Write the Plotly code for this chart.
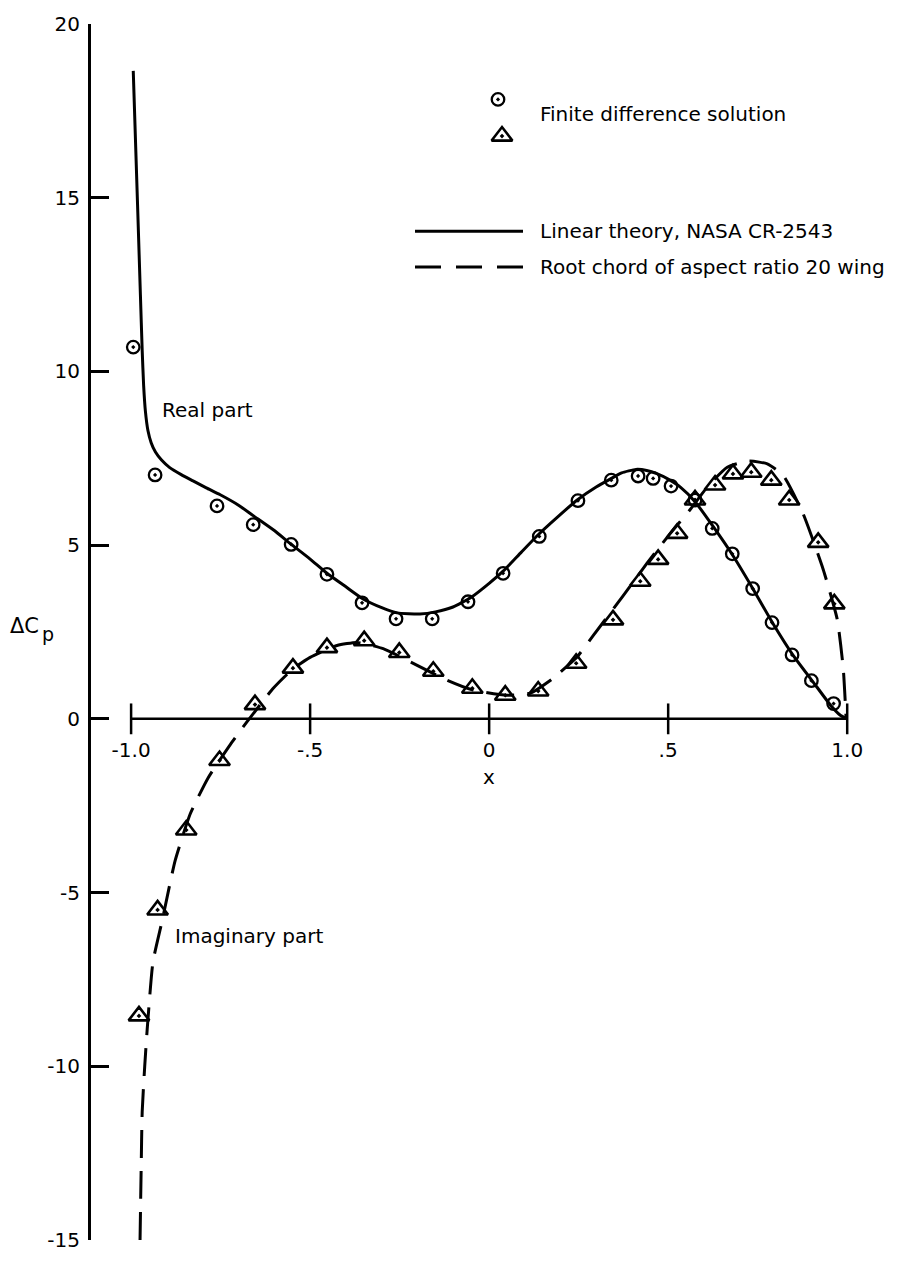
import plotly.graph_objects as go

# ---------------- data ----------------
real_fd_x = [-0.994, -0.933, -0.760, -0.659, -0.553, -0.453, -0.355, -0.260, -0.159, -0.059,
             0.039, 0.140, 0.248, 0.341, 0.416, 0.458, 0.508, 0.575, 0.623, 0.679,
             0.736, 0.790, 0.846, 0.900, 0.962]
real_fd_y = [10.7, 7.02, 6.13, 5.59, 5.02, 4.16, 3.34, 2.88, 2.88, 3.37,
             4.19, 5.25, 6.28, 6.87, 6.99, 6.92, 6.70, 6.30, 5.48, 4.75,
             3.75, 2.77, 1.84, 1.10, 0.44]

imag_fd_x = [-0.978, -0.926, -0.846, -0.753, -0.654, -0.548, -0.453, -0.349, -0.251, -0.156,
             -0.047, 0.045, 0.137, 0.243, 0.346, 0.422, 0.472, 0.525, 0.575, 0.631,
             0.681, 0.732, 0.788, 0.838, 0.919, 0.964]
imag_fd_y = [-8.55, -5.50, -3.20, -1.20, 0.41, 1.46, 2.05, 2.25, 1.91, 1.37,
             0.88, 0.68, 0.80, 1.60, 2.85, 3.96, 4.59, 5.34, 6.30, 6.73,
             7.05, 7.10, 6.87, 6.30, 5.08, 3.31]

real_th_x = [-0.994, -0.982, -0.974, -0.969, -0.965, -0.960, -0.953, -0.944, -0.932, -0.915,
             -0.893, -0.860, -0.827, -0.790, -0.751,
             -0.700, -0.659, -0.600, -0.556, -0.500, -0.453, -0.400, -0.352, -0.300, -0.257,
             -0.193, -0.150, -0.101, -0.050, 0.000, 0.039, 0.090, 0.137, 0.190, 0.246,
             0.300, 0.338, 0.370, 0.410, 0.440, 0.470, 0.500, 0.534, 0.575, 0.626,
             0.682, 0.737, 0.793, 0.849, 0.905, 0.953, 0.980, 0.994]
real_th_y = [18.65, 14.8, 12.2, 10.6, 9.6, 8.85, 8.3, 7.95, 7.68, 7.45,
             7.24, 7.03, 6.85, 6.65, 6.45,
             6.15, 5.85, 5.42, 5.05, 4.60, 4.19, 3.80, 3.45, 3.20, 3.05,
             3.02, 3.08, 3.22, 3.50, 3.90, 4.25, 4.80, 5.30, 5.80, 6.30,
             6.68, 6.90, 7.08, 7.18, 7.15, 7.05, 6.90, 6.67, 6.25, 5.53,
             4.68, 3.74, 2.74, 1.83, 1.06, 0.40, 0.11, 0.03]

imag_th_x = [-0.975, -0.972, -0.969, -0.962, -0.955, -0.939, -0.913, -0.877, -0.835, -0.785,
             -0.723, -0.676, -0.603, -0.550, -0.500, -0.425, -0.369, -0.296, -0.201, -0.117,
             -0.045, 0.050, 0.115, 0.179, 0.198, 0.243, 0.291, 0.374, 0.441, 0.506,
             0.561, 0.609, 0.665, 0.723, 0.777, 0.821, 0.877, 0.933, 0.972, 0.989, 0.997]
imag_th_y = [-15.0, -13.0, -11.3, -10.0, -8.93, -7.0, -5.8, -4.08, -2.74, -1.70,
             -0.74, -0.08, 0.88, 1.42, 1.77, 2.11, 2.20, 2.02, 1.54, 1.11,
             0.83, 0.68, 0.74, 1.17, 1.34, 1.75, 2.40, 3.54, 4.48, 5.34,
             6.02, 6.67, 7.24, 7.42, 7.34, 7.01, 5.90, 4.30, 2.87, 1.45, 0.0]

x_ticks = [-1.0, -0.5, 0.0, 0.5, 1.0]
x_ticktext = ["-1.0", "-.5", "0", ".5", "1.0"]
y_ticks = [-15, -10, -5, 0, 5, 10, 15, 20]
y_ticktext = ["-15", "-10", "-5", "0", "5", "10", "15", "20"]

# ---------------- layout geometry ----------------
W, H = 900, 1264
L, R, T, B = 91, 17, 23, 15
XMIN, XMAX = -1.112, 1.1
YMIN, YMAX = -15, 20
PW, PH = W - L - R, H - T - B


def px_x(px):
    return XMIN + (px - L) * (XMAX - XMIN) / PW


def px_y(py):
    return YMAX - (py - T) * (YMAX - YMIN) / PH


FONT = "DejaVu Sans"
DASH = "28px,13px"

fig = go.Figure()

# theory curves
fig.add_trace(go.Scatter(x=real_th_x, y=real_th_y, mode="lines",
                         line=dict(color="black", width=3, shape="spline", smoothing=0.5),
                         hoverinfo="skip"))
fig.add_trace(go.Scatter(x=imag_th_x, y=imag_th_y, mode="lines",
                         line=dict(color="black", width=3, dash=DASH, shape="spline", smoothing=0.5),
                         hoverinfo="skip"))

# finite difference points
circle_marker = dict(symbol="circle-open-dot", size=12.5, color="black", line=dict(width=2.3, color="black"))
tri_marker = dict(symbol="triangle-up-open-dot", size=18, color="black", line=dict(width=2.6, color="black"))
fig.add_trace(go.Scatter(x=imag_fd_x, y=imag_fd_y, mode="markers", marker=tri_marker, cliponaxis=False))
fig.add_trace(go.Scatter(x=real_fd_x, y=real_fd_y, mode="markers", marker=circle_marker, cliponaxis=False))

# x-axis line and crossing tick marks at y = 0
fig.add_shape(type="line", x0=min(x_ticks), x1=max(x_ticks), y0=0, y1=0,
              line=dict(color="black", width=2.5))
fig.add_trace(go.Scatter(x=x_ticks, y=[0] * len(x_ticks), mode="markers",
                         marker=dict(symbol="line-ns", size=22, line=dict(width=2.5, color="black")),
                         hoverinfo="skip", cliponaxis=False))

# legend (custom, top right)
fig.add_trace(go.Scatter(x=[px_x(498)], y=[px_y(99)], mode="markers", marker=circle_marker, hoverinfo="skip"))
fig.add_trace(go.Scatter(x=[px_x(502)], y=[px_y(136)], mode="markers", marker=tri_marker, hoverinfo="skip"))
fig.add_shape(type="line", x0=px_x(415), x1=px_x(523), y0=px_y(232), y1=px_y(232),
              line=dict(color="black", width=3))
fig.add_shape(type="line", x0=px_x(415), x1=px_x(523), y0=px_y(268), y1=px_y(268),
              line=dict(color="black", width=3, dash="26px,15px"))

texts = [
    ("Finite difference solution", 538, 114, 20),
    ("Linear theory, NASA CR-2543", 538, 232, 20),
    ("Root chord of aspect ratio 20 wing", 538, 268, 20),
    ("Real part", 160, 412, 20),
    ("Imaginary part", 173, 942, 20),
]
for txt, px, py, fs in texts:
    fig.add_annotation(x=px_x(px), y=px_y(py), text=txt, showarrow=False,
                       xanchor="left", yanchor="middle",
                       font=dict(family=FONT, size=fs, color="black"))

fig.add_annotation(x=px_x(489), y=px_y(782), text="x", showarrow=False,
                   xanchor="center", yanchor="middle", font=dict(family=FONT, size=20, color="black"))
# y-axis title lies left of the plot area -> place in paper coordinates
fig.add_annotation(xref="paper", yref="paper",
                   x=(8 - L) / PW, y=(H - B - 630) / PH,
                   text="ΔC", showarrow=False,
                   xanchor="left", yanchor="middle", font=dict(family=FONT, size=21, color="black"))
fig.add_annotation(xref="paper", yref="paper",
                   x=(40 - L) / PW, y=(H - B - 638) / PH,
                   text="p", showarrow=False,
                   xanchor="left", yanchor="middle", font=dict(family=FONT, size=19, color="black"))

fig.update_layout(
    width=W, height=H,
    margin=dict(l=L, r=R, t=T, b=B, pad=0),
    paper_bgcolor="white", plot_bgcolor="white",
    showlegend=False,
    font=dict(family=FONT, size=20, color="black"),
    xaxis=dict(range=[XMIN, XMAX], showgrid=False, zeroline=False, showline=False,
               anchor="free", position=(0 - YMIN) / (YMAX - YMIN),
               tickvals=x_ticks, ticktext=x_ticktext,
               ticks="outside", ticklen=13, tickcolor="rgba(0,0,0,0)",
               tickfont=dict(family=FONT, size=20, color="black")),
    yaxis=dict(range=[YMIN, YMAX], showgrid=False, zeroline=False,
               showline=True, linecolor="black", linewidth=3,
               ticks="inside", ticklen=18, tickwidth=3, tickcolor="black",
               tickvals=y_ticks, ticktext=y_ticktext, ticklabelstandoff=4,
               tickfont=dict(family=FONT, size=20, color="black")),
)

fig.write_html("out.html")
